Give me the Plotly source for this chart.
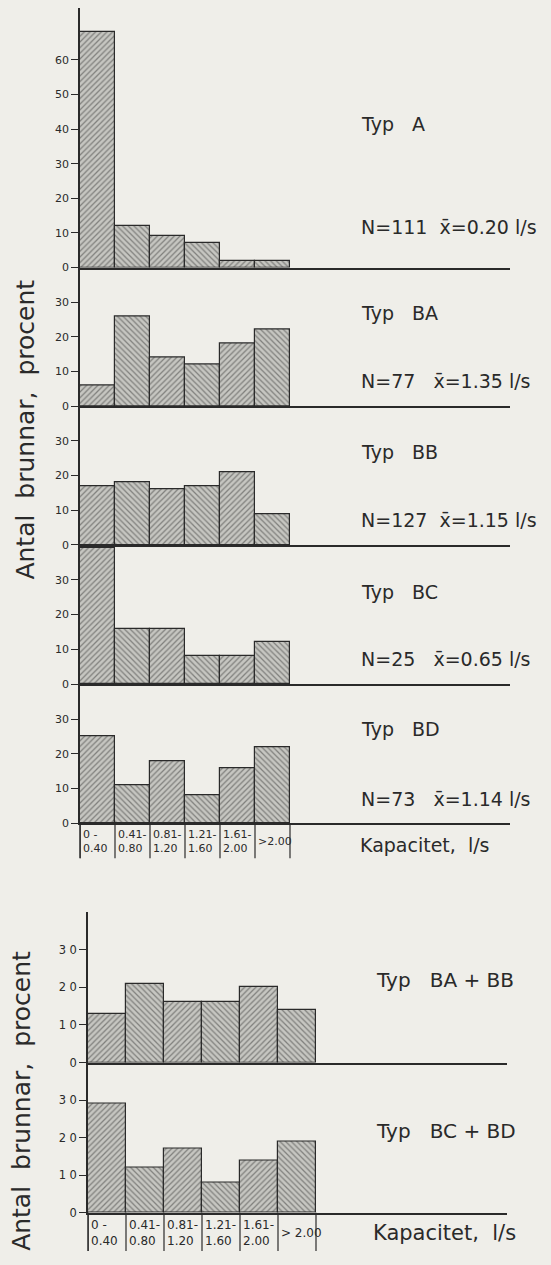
import plotly.graph_objects as go

# ---------------- data ----------------
cat_pos = [0, 1, 2, 3, 4, 5]
cat_labels_top = ["0 -<br>0.40", "0.41-<br>0.80", "0.81-<br>1.20", "1.21-<br>1.60", "1.61-<br>2.00", ">2.00"]
cat_labels_bot = ["0 -<br>0.40", "0.41-<br>0.80", "0.81-<br>1.20", "1.21-<br>1.60", "1.61-<br>2.00", "> 2.00"]

typ_a = [68, 12, 9, 7, 2, 2]
typ_ba = [6, 26, 14, 12, 18, 22]
typ_bb = [17, 18, 16, 17, 21, 9]
typ_bc = [39, 16, 16, 8, 8, 12]
typ_bd = [25, 11, 18, 8, 16, 22]
typ_ba_bb = [13, 21, 16, 16, 20, 14]
typ_bc_bd = [29, 12, 17, 8, 14, 19]

names_top = ["Typ\u00a0\u00a0\u00a0A", "Typ\u00a0\u00a0\u00a0BA", "Typ\u00a0\u00a0\u00a0BB", "Typ\u00a0\u00a0\u00a0BC", "Typ\u00a0\u00a0\u00a0BD"]
stats_top = [
    "N=111\u00a0\u00a0x\u0304=0.20\u00a0l/s",
    "N=77\u00a0\u00a0\u00a0x\u0304=1.35\u00a0l/s",
    "N=127\u00a0\u00a0x\u0304=1.15\u00a0l/s",
    "N=25\u00a0\u00a0\u00a0x\u0304=0.65\u00a0l/s",
    "N=73\u00a0\u00a0\u00a0x\u0304=1.14\u00a0l/s",
]
names_bot = ["Typ\u00a0\u00a0\u00a0BA\u00a0+\u00a0BB", "Typ\u00a0\u00a0\u00a0BC\u00a0+\u00a0BD"]

top_series = [typ_a, typ_ba, typ_bb, typ_bc, typ_bd]
bot_series = [typ_ba_bb, typ_bc_bd]

# ---------------- layout helpers ----------------
W, H = 551, 1265
BG = "#efeee9"
INK = "#2a2a2a"
FONT = "DejaVu Sans"

def px(x):
    return x / W

def py(y):
    return 1 - y / H

fig = go.Figure()

top_bounds = [(8, 269, 75, [0, 10, 20, 30, 40, 50, 60]),
              (269, 408.5, 40, [0, 10, 20, 30]),
              (408.5, 548, 40, [0, 10, 20, 30]),
              (548, 688, 40, [0, 10, 20, 30]),
              (688, 828, 40, [0, 10, 20, 30])]
top_x0, top_x1, top_bw = 80, 510, 35
bot_bounds = [(917, 1068.5, 40), (1068.5, 1219.5, 40)]
bot_x0, bot_x1, bot_bw = 88, 507, 38

shapes_pat = ["/", "\\", "/", "\\", "/", "\\"]

def add_bars(vals, idx):
    fig.add_trace(go.Bar(
        x=cat_pos, y=vals, width=1.0,
        xaxis="x" if idx == 1 else f"x{idx}",
        yaxis="y" if idx == 1 else f"y{idx}",
        marker=dict(color="#c4c4bf",
                    line=dict(color=INK, width=1.2),
                    pattern=dict(shape=shapes_pat, fgcolor="#3a3a3a", bgcolor="#c6c6c1",
                                 size=4, solidity=0.32)),
        showlegend=False, hoverinfo="skip"))

layout = dict(width=W, height=H, margin=dict(l=0, r=0, t=0, b=0),
              paper_bgcolor=BG, plot_bgcolor="rgba(0,0,0,0)",
              font=dict(family=FONT, color=INK), bargap=0, showlegend=False)

annotations = []
shapes = []

idx = 1
for i, (vals, (t, b, ymax, ticks)) in enumerate(zip(top_series, top_bounds)):
    add_bars(vals, idx)
    xr = [-0.5, -0.5 + (top_x1 - top_x0) / top_bw]
    xk = "xaxis" if idx == 1 else f"xaxis{idx}"
    yk = "yaxis" if idx == 1 else f"yaxis{idx}"
    layout[xk] = dict(domain=[px(top_x0), px(top_x1)], range=xr, anchor="y" if idx == 1 else f"y{idx}",
                      showline=True, linecolor=INK, linewidth=1.5, showticklabels=False,
                      showgrid=False, zeroline=False, ticks="", fixedrange=True)
    layout[yk] = dict(domain=[py(b), py(t)], range=[0, ymax], anchor="x" if idx == 1 else f"x{idx}",
                      showline=True, linecolor=INK, linewidth=1.5, showgrid=False, zeroline=False,
                      tickvals=ticks, ticks="outside", ticklen=7, tickwidth=1.2, tickcolor=INK,
                      tickfont=dict(size=11, family=FONT, color=INK), fixedrange=True)
    idx += 1

for j, (vals, (t, b, ymax)) in enumerate(zip(bot_series, bot_bounds)):
    add_bars(vals, idx)
    xr = [-0.5, -0.5 + (bot_x1 - bot_x0) / bot_bw]
    layout[f"xaxis{idx}"] = dict(domain=[px(bot_x0), px(bot_x1)], range=xr, anchor=f"y{idx}",
                                 showline=True, linecolor=INK, linewidth=1.5, showticklabels=False,
                                 showgrid=False, zeroline=False, ticks="", fixedrange=True)
    layout[f"yaxis{idx}"] = dict(domain=[py(b), py(t)], range=[0, ymax], anchor=f"x{idx}",
                                 showline=True, linecolor=INK, linewidth=1.5, showgrid=False, zeroline=False,
                                 tickvals=[0, 10, 20, 30], ticktext=["0", "1 0", "2 0", "3 0"],
                                 ticks="outside", ticklen=7, tickwidth=1.2, tickcolor=INK,
                                 tickfont=dict(size=11.5, family=FONT, color=INK), fixedrange=True)
    idx += 1

def cat_boxes(xref, ytop, ybot, labels, x0px, fsize):
    shapes.append(dict(type="line", xref="paper", yref="paper", x0=px(x0px), x1=px(x0px),
                       y0=py(ytop), y1=py(ybot), line=dict(color=INK, width=1.5)))
    for k in range(len(cat_pos) + 1):
        xv = k - 0.5
        shapes.append(dict(type="line", xref=xref, yref="paper", x0=xv, x1=xv,
                           y0=py(ytop), y1=py(ybot), line=dict(color=INK, width=1.2)))
    for k, lab in zip(cat_pos, labels):
        annotations.append(dict(x=k - 0.5, y=py((ytop + ybot) / 2 + 1), xref=xref, yref="paper",
                                text=lab, showarrow=False, align="left", xanchor="left",
                                yanchor="middle", xshift=1,
                                font=dict(size=fsize, family=FONT, color=INK)))

cat_boxes("x5", 828, 863, cat_labels_top, top_x0, 11)
cat_boxes("x7", 1219.5, 1258, cat_labels_bot, bot_x0, 12)

def label(x, y, text, size):
    annotations.append(dict(x=px(x), y=py(y), xref="paper", yref="paper", text=text,
                            showarrow=False, xanchor="left", yanchor="middle",
                            font=dict(size=size, family=FONT, color=INK)))

name_y = [125, 315, 455, 595, 733]
stat_y = [228, 383, 523, 663, 803]
for nm, sy, ny, st in zip(names_top, stat_y, name_y, stats_top):
    label(359, ny, nm, 19)
    label(359, sy, st, 19)
for nm, ny in zip(names_bot, [985, 1137]):
    label(374, ny, nm, 20)

label(358, 850, "Kapacitet,\u00a0\u00a0l/s", 19)
label(371, 1240, "Kapacitet,\u00a0\u00a0l/s", 21)

for cy, cx in [(432, 26), (1107, 22)]:
    annotations.append(dict(x=px(cx), y=py(cy), xref="paper", yref="paper",
                            text="Antal\u00a0\u00a0brunnar,\u00a0\u00a0procent", textangle=-90,
                            xanchor="center", yanchor="middle",
                            showarrow=False, font=dict(size=25, family=FONT, color=INK)))

layout["annotations"] = annotations
layout["shapes"] = shapes
fig.update_layout(**layout)
fig.write_html("out.html",
               config={"displayModeBar": False},
               post_script=(
                   "document.documentElement.style.margin='0px';"
                   "document.documentElement.style.overflow='hidden';"
                   "document.documentElement.style.height='1265px';"
                   "document.documentElement.style.background='#efeee9';"
                   "document.body.style.margin='0px';document.body.style.padding='0px';"
                   "document.body.style.overflow='hidden';"
                   "document.body.style.height='1265px';"
                   "document.body.style.background='#efeee9';"
                   "var gd=document.getElementById('{plot_id}');"
                   "gd.style.position='fixed';gd.style.left='0px';gd.style.top='0px';"
               ))
